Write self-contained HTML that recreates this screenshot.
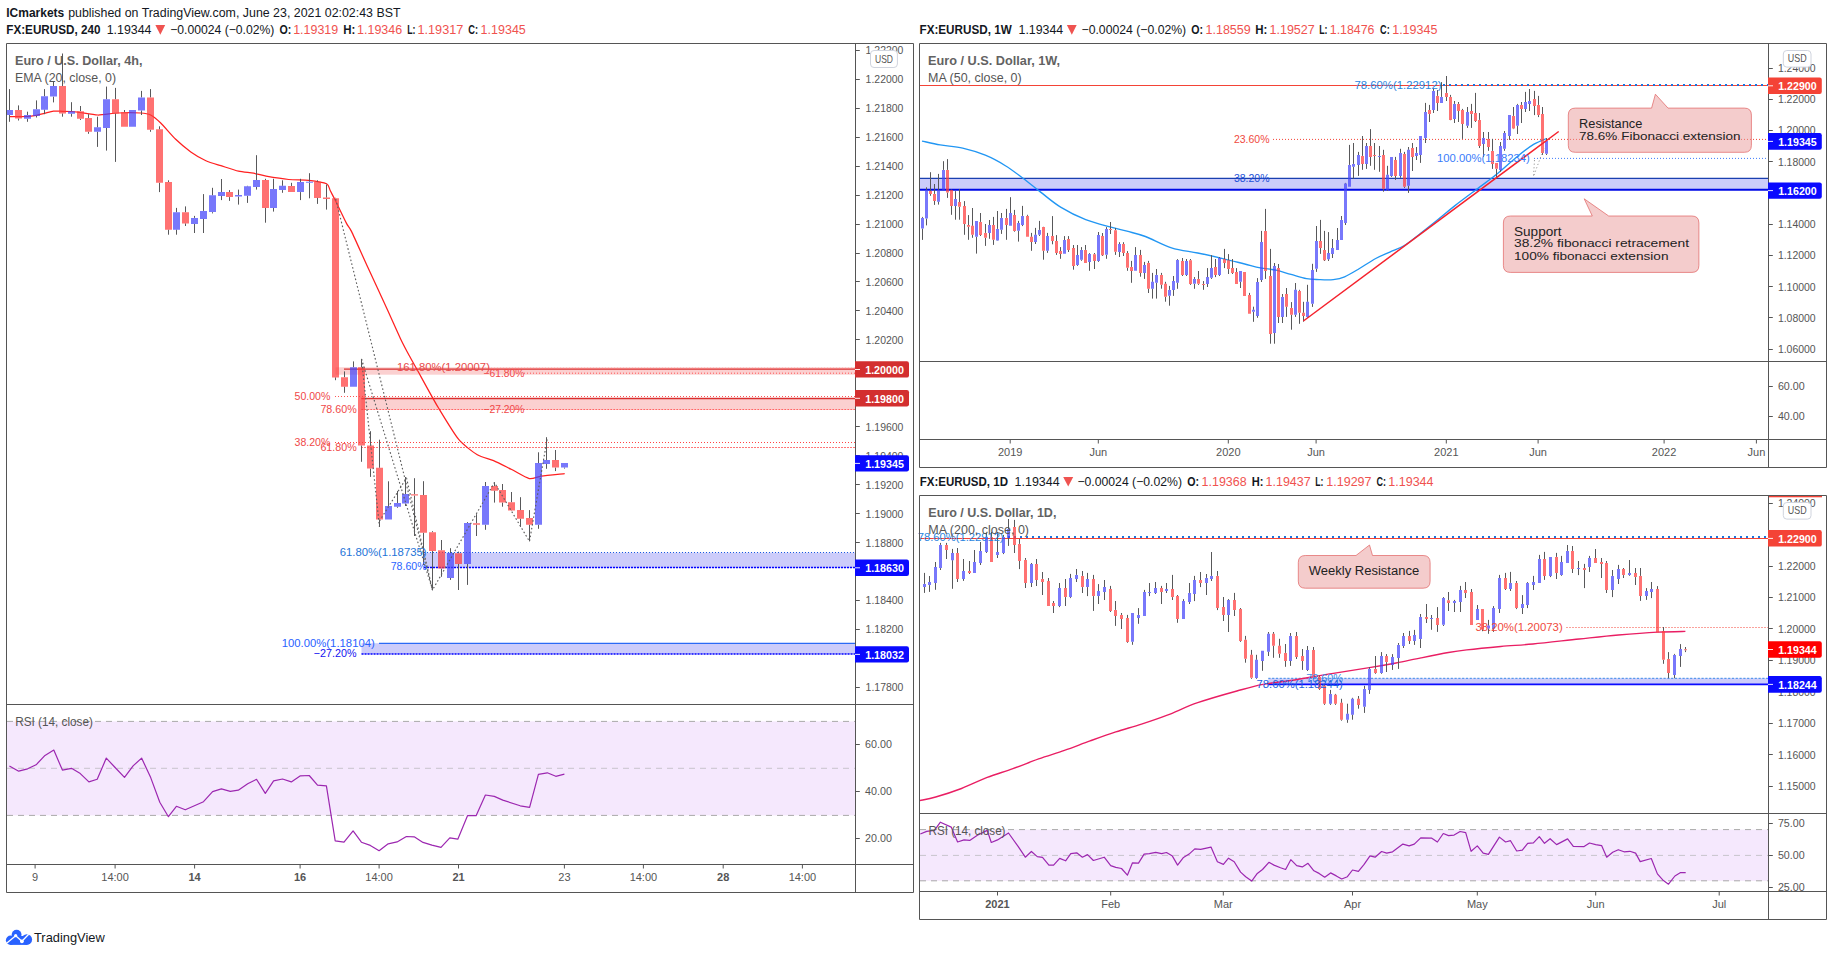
<!DOCTYPE html>
<html><head><meta charset="utf-8"><title>EURUSD</title>
<style>html,body{margin:0;padding:0;background:#fff;overflow:hidden}svg{display:block}text{font-family:"Liberation Sans",sans-serif;white-space:pre}</style></head>
<body>
<svg width="1833" height="956" viewBox="0 0 1833 956" font-family="Liberation Sans, sans-serif">
<rect x="0.0" y="0.0" width="1833.0" height="956.0" fill="#fff"/>
<text x="6.3" y="17.0" font-size="12.5" fill="#131722" font-weight="bold" textLength="57.9" lengthAdjust="spacingAndGlyphs">ICmarkets</text>
<text x="68.2" y="17.0" font-size="12.5" fill="#131722" textLength="332.3" lengthAdjust="spacingAndGlyphs">published on TradingView.com, June 23, 2021 02:02:43 BST</text>
<text x="6.3" y="34.1" font-size="12.5" fill="#131722" font-weight="bold" textLength="94.1" lengthAdjust="spacingAndGlyphs">FX:EURUSD, 240</text>
<text x="106.7" y="34.1" font-size="12.5" fill="#131722" textLength="44.7" lengthAdjust="spacingAndGlyphs">1.19344</text>
<path d="M155.4 25.1H165.2L160.3 34.7z" fill="#ef5350"/>
<text x="170.2" y="34.1" font-size="12.5" fill="#131722" textLength="104.2" lengthAdjust="spacingAndGlyphs">−0.00024 (−0.02%)</text>
<text x="279.4" y="34.1" font-size="12.5" fill="#131722" font-weight="bold" textLength="11.8" lengthAdjust="spacingAndGlyphs">O:</text>
<text x="293.2" y="34.1" font-size="12.5" fill="#f0524f" textLength="45.0" lengthAdjust="spacingAndGlyphs">1.19319</text>
<text x="343.2" y="34.1" font-size="12.5" fill="#131722" font-weight="bold" textLength="12.1" lengthAdjust="spacingAndGlyphs">H:</text>
<text x="357.0" y="34.1" font-size="12.5" fill="#f0524f" textLength="45.2" lengthAdjust="spacingAndGlyphs">1.19346</text>
<text x="407.2" y="34.1" font-size="12.5" fill="#131722" font-weight="bold" textLength="8.3" lengthAdjust="spacingAndGlyphs">L:</text>
<text x="417.5" y="34.1" font-size="12.5" fill="#f0524f" textLength="45.8" lengthAdjust="spacingAndGlyphs">1.19317</text>
<text x="468.3" y="34.1" font-size="12.5" fill="#131722" font-weight="bold" textLength="9.8" lengthAdjust="spacingAndGlyphs">C:</text>
<text x="480.6" y="34.1" font-size="12.5" fill="#f0524f" textLength="45.2" lengthAdjust="spacingAndGlyphs">1.19345</text>
<text x="919.5" y="34.1" font-size="12.5" fill="#131722" font-weight="bold" textLength="92.2" lengthAdjust="spacingAndGlyphs">FX:EURUSD, 1W</text>
<text x="1018.5" y="34.1" font-size="12.5" fill="#131722" textLength="44.7" lengthAdjust="spacingAndGlyphs">1.19344</text>
<path d="M1066.9 25.1H1076.7L1071.8 34.7z" fill="#ef5350"/>
<text x="1081.5" y="34.1" font-size="12.5" fill="#131722" textLength="104.7" lengthAdjust="spacingAndGlyphs">−0.00024 (−0.02%)</text>
<text x="1191.2" y="34.1" font-size="12.5" fill="#131722" font-weight="bold" textLength="11.8" lengthAdjust="spacingAndGlyphs">O:</text>
<text x="1205.5" y="34.1" font-size="12.5" fill="#f0524f" textLength="45.2" lengthAdjust="spacingAndGlyphs">1.18559</text>
<text x="1255.2" y="34.1" font-size="12.5" fill="#131722" font-weight="bold" textLength="12.1" lengthAdjust="spacingAndGlyphs">H:</text>
<text x="1269.5" y="34.1" font-size="12.5" fill="#f0524f" textLength="45.2" lengthAdjust="spacingAndGlyphs">1.19527</text>
<text x="1319.2" y="34.1" font-size="12.5" fill="#131722" font-weight="bold" textLength="8.3" lengthAdjust="spacingAndGlyphs">L:</text>
<text x="1329.8" y="34.1" font-size="12.5" fill="#f0524f" textLength="44.7" lengthAdjust="spacingAndGlyphs">1.18476</text>
<text x="1380.1" y="34.1" font-size="12.5" fill="#131722" font-weight="bold" textLength="9.6" lengthAdjust="spacingAndGlyphs">C:</text>
<text x="1392.2" y="34.1" font-size="12.5" fill="#f0524f" textLength="45.2" lengthAdjust="spacingAndGlyphs">1.19345</text>
<text x="919.7" y="486.0" font-size="12.5" fill="#131722" font-weight="bold" textLength="88.3" lengthAdjust="spacingAndGlyphs">FX:EURUSD, 1D</text>
<text x="1014.6" y="486.0" font-size="12.5" fill="#131722" textLength="45.0" lengthAdjust="spacingAndGlyphs">1.19344</text>
<path d="M1063.2 477.0H1073.2L1068.2 486.6z" fill="#ef5350"/>
<text x="1077.4" y="486.0" font-size="12.5" fill="#131722" textLength="104.6" lengthAdjust="spacingAndGlyphs">−0.00024 (−0.02%)</text>
<text x="1187.2" y="486.0" font-size="12.5" fill="#131722" font-weight="bold" textLength="11.8" lengthAdjust="spacingAndGlyphs">O:</text>
<text x="1201.6" y="486.0" font-size="12.5" fill="#f0524f" textLength="45.0" lengthAdjust="spacingAndGlyphs">1.19368</text>
<text x="1251.8" y="486.0" font-size="12.5" fill="#131722" font-weight="bold" textLength="11.7" lengthAdjust="spacingAndGlyphs">H:</text>
<text x="1265.6" y="486.0" font-size="12.5" fill="#f0524f" textLength="45.0" lengthAdjust="spacingAndGlyphs">1.19437</text>
<text x="1315.3" y="486.0" font-size="12.5" fill="#131722" font-weight="bold" textLength="8.2" lengthAdjust="spacingAndGlyphs">L:</text>
<text x="1326.3" y="486.0" font-size="12.5" fill="#f0524f" textLength="45.2" lengthAdjust="spacingAndGlyphs">1.19297</text>
<text x="1376.5" y="486.0" font-size="12.5" fill="#131722" font-weight="bold" textLength="9.5" lengthAdjust="spacingAndGlyphs">C:</text>
<text x="1388.3" y="486.0" font-size="12.5" fill="#f0524f" textLength="45.2" lengthAdjust="spacingAndGlyphs">1.19344</text>
<clipPath id="cl"><rect x="7" y="44" width="848" height="660"/></clipPath>
<g clip-path="url(#cl)">
<rect x="335.5" y="367.3" width="519.5" height="7.4" fill="#fbd0d0"/>
<rect x="361.3" y="398.2" width="493.7" height="11.2" fill="#fbd0d0"/>
<rect x="424.0" y="552.6" width="431.0" height="14.9" fill="#ccccfa"/>
<rect x="361.5" y="643.2" width="493.5" height="10.8" fill="#ccccfa"/>
<line x1="344.0" y1="369.1" x2="855.0" y2="369.1" stroke="#d83030" stroke-width="1.3"/>
<line x1="361.3" y1="398.5" x2="855.0" y2="398.5" stroke="#d83030" stroke-width="1.3"/>
<line x1="470.0" y1="368.3" x2="855.0" y2="368.3" stroke="#f77" stroke-width="1" stroke-dasharray="1 2"/>
<line x1="524.0" y1="373.2" x2="855.0" y2="373.2" stroke="#f55" stroke-width="1" stroke-dasharray="1 2"/>
<line x1="335.0" y1="396.5" x2="855.0" y2="396.5" stroke="#f55" stroke-width="1" stroke-dasharray="1 2"/>
<line x1="361.3" y1="409.5" x2="855.0" y2="409.5" stroke="#f66" stroke-width="1" stroke-dasharray="2 1"/>
<line x1="335.0" y1="442.5" x2="855.0" y2="442.5" stroke="#f44" stroke-width="1" stroke-dasharray="1 2"/>
<line x1="361.0" y1="447.5" x2="855.0" y2="447.5" stroke="#f77" stroke-width="1" stroke-dasharray="2 1"/>
<line x1="424.0" y1="552.5" x2="855.0" y2="552.5" stroke="#1a5ae0" stroke-width="1.2" stroke-dasharray="1 2"/>
<line x1="424.0" y1="567.4" x2="855.0" y2="567.4" stroke="#0000ff" stroke-width="1.5" stroke-dasharray="2.1 0.9"/>
<line x1="379.0" y1="643.4" x2="855.0" y2="643.4" stroke="#2a6af5" stroke-width="1.3"/>
<line x1="361.5" y1="654.0" x2="855.0" y2="654.0" stroke="#0000ff" stroke-width="1.5" stroke-dasharray="2.1 0.9"/>
<path d="M9.4 116.5C11.5 116.5 24.2 116.6 27.3 116.5C30.4 116.4 34.2 115.7 36.2 115.3C38.2 114.9 42.5 113.9 44.5 113.4C46.5 112.9 51.3 111.3 53.4 111.1C55.5 110.9 60.5 111.4 62.6 111.4C64.7 111.4 69.5 111.4 71.5 111.5C73.5 111.6 76.9 112.1 80.0 112.5C83.1 112.9 93.5 114.9 97.9 115.0C102.3 115.1 113.0 113.2 118.0 113.0C123.0 112.8 136.8 112.8 140.6 113.0C144.4 113.2 148.3 113.8 150.6 115.0C152.9 116.2 157.8 120.2 160.7 123.0C163.6 125.8 172.2 135.9 175.7 139.3C179.2 142.7 187.3 149.4 190.8 151.9C194.3 154.4 202.4 159.1 205.9 160.7C209.4 162.3 217.1 164.5 220.9 165.7C224.7 166.9 234.7 170.3 238.5 171.2C242.3 172.1 250.4 172.6 253.6 173.2C256.8 173.8 262.0 175.5 266.1 176.2C270.2 176.9 283.7 179.0 288.7 179.5C293.7 180.0 304.4 179.8 308.8 180.3C313.2 180.8 324.1 182.6 326.6 183.8C329.1 185.0 329.2 188.5 330.2 190.5C331.2 192.5 333.6 197.0 335.5 200.8C337.4 204.6 344.6 219.8 346.5 223.4C348.4 227.0 349.1 226.5 351.6 231.6C354.1 236.7 363.6 258.2 367.8 267.3C372.0 276.4 383.5 301.2 387.3 309.5C391.1 317.8 398.0 333.4 400.5 338.7C403.0 344.0 406.7 350.9 408.9 355.0C411.1 359.1 416.0 367.6 419.4 373.8C422.8 380.0 433.8 400.2 438.4 407.8C443.0 415.4 454.0 433.7 458.5 439.2C463.0 444.7 473.2 452.3 477.3 454.8C481.4 457.3 489.6 458.9 493.6 460.6C497.6 462.3 507.0 467.2 511.2 469.3C515.4 471.4 525.8 477.8 529.3 478.6C532.8 479.4 537.2 476.7 541.3 476.1C545.4 475.5 562.0 473.9 564.7 473.6" fill="none" stroke="#ff2020" stroke-width="1.25"/>
<path d="M9.5 89.1V110.0M9.5 115.0V121.8M18.5 105.4V110.0M18.5 118.5V120.5M27.5 111.7V115.0M27.5 118.8V121.8M36.5 100.4V109.2M36.5 116.0V117.5M44.5 89.1V96.2M44.5 109.7V114.2M53.5 81.6V86.1M53.5 96.7V102.4M62.5 53.5V86.1M62.5 113.5V116.7M71.5 102.2V111.2M71.5 113.7V116.7M80.5 106.0V111.2M80.5 118.8V120.0M88.5 114.2V118.0M88.5 131.8V133.8M97.5 116.7V127.3M97.5 131.8V146.9M106.5 86.6V99.2M106.5 128.0V150.6M115.5 87.9V99.2M115.5 113.5V161.9M124.5 110.0V112.2M141.5 90.9V97.4M141.5 110.5V115.0M150.5 89.1V97.4M150.5 129.8V131.8M159.5 126.3V129.3M159.5 182.8V192.1M168.5 180.3V182.0M168.5 229.7V234.7M176.5 207.9V212.2M176.5 229.7V234.7M185.5 206.4V212.2M185.5 223.4V226.0M194.5 215.9V217.9M194.5 224.0V233.0M203.5 194.1V210.9M203.5 218.9V233.0M212.5 187.8V195.3M212.5 212.2V213.4M221.5 179.0V192.1M221.5 195.8V200.1M229.5 190.1V192.1M229.5 197.1V200.9M238.5 189.6V195.1M238.5 196.6V204.6M247.5 185.8V186.3M247.5 195.8V202.9M256.5 155.2V180.0M256.5 187.0V189.6M265.5 178.8V180.0M265.5 207.9V222.7M273.5 178.8V189.1M273.5 207.9V211.6M282.5 180.3V185.8M282.5 190.1V192.8M291.5 182.8V186.0M300.5 178.8V182.0M300.5 192.1V200.1M309.5 173.2V181.8M309.5 182.8V198.3M317.5 180.3V181.8M317.5 197.8V203.9M326.5 184.5V197.6M326.5 198.8V209.6M335.5 197.8V198.2M335.5 377.4V380.2M344.5 371.4V377.2M344.5 386.7V392.8M353.5 361.4V367.2M361.5 358.9V367.2M361.5 445.5V461.8M370.5 431.2V445.5M370.5 468.6V476.9M379.5 439.7V467.8M379.5 519.6V526.9M388.5 481.3V506.0M397.5 491.0V503.0M397.5 506.7V507.8M405.5 477.0V494.0M405.5 503.6V506.0M414.5 478.2V494.2M414.5 495.6V536.0M423.5 481.2V495.0M423.5 532.8V565.0M432.5 531.2V532.2M432.5 550.9V590.4M441.5 540.0V550.2M441.5 568.6V576.8M450.5 548.2V553.0M450.5 577.9V579.9M458.5 551.6V553.2M458.5 563.9V590.0M467.5 522.1V523.0M467.5 563.9V584.9M476.5 514.2V523.3M476.5 524.7V536.0M485.5 482.0V486.0M485.5 524.8V529.8M494.5 482.5V486.0M494.5 490.7V502.6M502.5 484.0V490.1M502.5 502.6V506.7M511.5 492.0V502.2M511.5 510.5V510.8M520.5 497.2V510.1M520.5 518.7V526.9M529.5 510.1V518.0M529.5 524.8V541.4M538.5 452.3V463.1M538.5 524.8V528.8M546.5 437.2V460.1M546.5 463.8V468.8M555.5 450.0V460.1M555.5 467.6V471.1M564.5 467.6V468.6" stroke="#58585a" stroke-width="1" fill="none"/>
<path d="M15 110.0h7v8.5h-7zM59 86.1h7v27.4h-7zM77 111.2h7v7.5h-7zM85 118.0h7v13.8h-7zM112 99.2h7v14.3h-7zM121 112.2h7v14.6h-7zM147 97.4h7v32.4h-7zM156 129.3h7v53.5h-7zM165 182.0h7v47.7h-7zM182 212.2h7v11.3h-7zM226 192.1h7v5.0h-7zM262 180.0h7v27.9h-7zM288 186.0h7v6.0h-7zM314 181.8h7v16.1h-7zM323 197.6h7v1.3h-7zM332 198.2h7v179.2h-7zM341 377.2h7v9.5h-7zM358 367.2h7v78.3h-7zM367 445.5h7v23.1h-7zM376 467.8h7v51.8h-7zM411 494.2h7v1.4h-7zM420 495.0h7v37.8h-7zM429 532.2h7v18.7h-7zM438 550.2h7v18.4h-7zM455 553.2h7v10.7h-7zM473 523.3h7v1.4h-7zM491 486.0h7v4.7h-7zM499 490.1h7v12.5h-7zM508 502.2h7v8.3h-7zM517 510.1h7v8.6h-7zM526 518.0h7v6.8h-7zM552 460.1h7v7.5h-7z" fill="#ff3b3b" fill-opacity="0.72"/>
<path d="M6 110.0h7v5.0h-7zM24 115.0h7v3.8h-7zM33 109.2h7v6.8h-7zM41 96.2h7v13.6h-7zM50 86.1h7v10.5h-7zM68 111.2h7v2.5h-7zM94 127.3h7v4.5h-7zM103 99.2h7v28.9h-7zM129 110.0h7v16.8h-7zM138 97.4h7v13.1h-7zM173 212.2h7v17.6h-7zM191 217.9h7v6.0h-7zM200 210.9h7v8.0h-7zM209 195.3h7v16.8h-7zM218 192.1h7v3.8h-7zM235 195.1h7v1.5h-7zM244 186.3h7v9.5h-7zM253 180.0h7v7.0h-7zM270 189.1h7v18.8h-7zM279 185.8h7v4.3h-7zM297 182.0h7v10.0h-7zM306 181.8h7v1.0h-7zM350 367.2h7v19.6h-7zM385 506.0h7v13.6h-7zM394 503.0h7v3.7h-7zM402 494.0h7v9.6h-7zM447 553.0h7v24.9h-7zM464 523.0h7v40.9h-7zM482 486.0h7v38.8h-7zM535 463.1h7v61.7h-7zM543 460.1h7v3.8h-7zM561 463.1h7v4.5h-7z" fill="#4444f9" fill-opacity="0.72"/>
<polyline points="335.7,199.0 432.5,590.0" fill="none" stroke="#5e5e5e" stroke-width="1.15" stroke-linejoin="round" stroke-dasharray="1.6 2.3"/>
<polyline points="361.5,359.0 432.5,590.0" fill="none" stroke="#5e5e5e" stroke-width="1.15" stroke-linejoin="round" stroke-dasharray="1.6 2.3"/>
<polyline points="361.5,359.0 379.5,527.0" fill="none" stroke="#5e5e5e" stroke-width="1.15" stroke-linejoin="round" stroke-dasharray="1.6 2.3"/>
<polyline points="379.5,521.0 406.5,478.0 432.5,590.0 494.4,482.5 529.5,541.4 547.4,437.5" fill="none" stroke="#5e5e5e" stroke-width="1.15" stroke-linejoin="round" stroke-dasharray="1.6 2.3"/>
</g>
<text x="397.0" y="371.1" font-size="11" fill="#e84a4a" textLength="92.9" lengthAdjust="spacingAndGlyphs">161.80%(1.20007)</text>
<text x="483.6" y="377.1" font-size="11" fill="#f04848" textLength="40.7" lengthAdjust="spacingAndGlyphs">−61.80%</text>
<text x="483.6" y="413.1" font-size="11" fill="#f04848" textLength="40.7" lengthAdjust="spacingAndGlyphs">−27.20%</text>
<text x="294.5" y="399.9" font-size="11" fill="#f04848" textLength="35.9" lengthAdjust="spacingAndGlyphs">50.00%</text>
<text x="320.4" y="413.0" font-size="11" fill="#f04848" textLength="36.4" lengthAdjust="spacingAndGlyphs">78.60%</text>
<text x="294.5" y="445.6" font-size="11" fill="#f04848" textLength="35.9" lengthAdjust="spacingAndGlyphs">38.20%</text>
<text x="320.4" y="450.6" font-size="11" fill="#f04848" textLength="36.4" lengthAdjust="spacingAndGlyphs">61.80%</text>
<text x="339.7" y="555.6" font-size="11" fill="#1e73d8" textLength="86.9" lengthAdjust="spacingAndGlyphs">61.80%(1.18735)</text>
<text x="390.7" y="569.9" font-size="11" fill="#2962ff" textLength="35.9" lengthAdjust="spacingAndGlyphs">78.60%</text>
<text x="281.7" y="646.6" font-size="11" fill="#2962ff" textLength="93.1" lengthAdjust="spacingAndGlyphs">100.00%(1.18104)</text>
<text x="313.8" y="657.1" font-size="11" fill="#1212f0" textLength="42.7" lengthAdjust="spacingAndGlyphs">−27.20%</text>
<text x="15.0" y="64.8" font-size="12" fill="#555" font-weight="bold" textLength="127.4" lengthAdjust="spacingAndGlyphs" opacity="0.92">Euro / U.S. Dollar, 4h,</text>
<text x="15.0" y="82.1" font-size="12" fill="#555" textLength="101.0" lengthAdjust="spacingAndGlyphs">EMA (20, close, 0)</text>
<rect x="7.0" y="721.4" width="848.5" height="94.0" fill="#f5e8fd"/>
<line x1="7.0" y1="721.4" x2="855.0" y2="721.4" stroke="#a9a9a9" stroke-width="1" stroke-dasharray="6 5"/>
<line x1="7.0" y1="815.4" x2="855.0" y2="815.4" stroke="#a9a9a9" stroke-width="1" stroke-dasharray="6 5"/>
<line x1="7.0" y1="768.3" x2="855.0" y2="768.3" stroke="#c8c4cc" stroke-width="1" stroke-dasharray="6 5"/>
<polyline points="9.4,765.9 18.7,771.2 27.6,768.8 36.1,764.8 45.0,755.4 53.8,750.1 62.4,770.1 71.5,768.3 80.3,773.6 88.9,781.9 97.2,779.3 106.3,758.1 115.1,767.5 124.5,777.4 133.1,765.9 141.6,758.1 150.7,777.6 159.8,802.3 168.4,816.7 176.4,806.3 185.3,809.8 194.4,805.8 203.5,801.7 212.6,791.6 221.4,788.9 230.3,791.3 238.3,790.2 247.7,783.8 256.5,779.3 265.3,793.4 273.6,780.9 282.5,779.0 291.3,781.9 300.4,775.8 309.2,775.5 317.5,785.1 326.4,785.9 335.2,840.8 344.0,842.2 353.1,830.9 361.4,842.2 370.3,845.4 379.1,850.7 388.2,843.8 397.1,841.9 406.4,836.5 414.2,836.8 423.0,842.4 431.9,845.1 441.0,847.3 449.8,837.9 457.8,839.2 467.5,815.7 476.1,815.7 485.4,795.0 494.3,796.4 502.8,800.1 520.2,805.8 529.6,807.4 538.4,774.4 547.3,772.8 555.8,776.3 564.4,774.2" fill="none" stroke="#9c27b0" stroke-width="1.2" stroke-linejoin="round"/>
<text x="15.3" y="726.0" font-size="12" fill="#555" textLength="77.6" lengthAdjust="spacingAndGlyphs">RSI (14, close)</text>
<path d="M6.5 43.5H913.5V892.5H6.5z M855.5 43.5V892.5 M6.5 704.5H913.5 M6.5 864.5H913.5" fill="none" stroke="#555" stroke-width="1"/>
<line x1="855.5" y1="50.5" x2="859.8" y2="50.5" stroke="#555" stroke-width="1"/>
<text x="865.6" y="54.2" font-size="11" fill="#555" textLength="37.8" lengthAdjust="spacingAndGlyphs">1.22200</text>
<line x1="855.5" y1="79.5" x2="859.8" y2="79.5" stroke="#555" stroke-width="1"/>
<text x="865.6" y="83.2" font-size="11" fill="#555" textLength="37.8" lengthAdjust="spacingAndGlyphs">1.22000</text>
<line x1="855.5" y1="108.5" x2="859.8" y2="108.5" stroke="#555" stroke-width="1"/>
<text x="865.6" y="112.2" font-size="11" fill="#555" textLength="37.8" lengthAdjust="spacingAndGlyphs">1.21800</text>
<line x1="855.5" y1="137.5" x2="859.8" y2="137.5" stroke="#555" stroke-width="1"/>
<text x="865.6" y="141.1" font-size="11" fill="#555" textLength="37.8" lengthAdjust="spacingAndGlyphs">1.21600</text>
<line x1="855.5" y1="166.5" x2="859.8" y2="166.5" stroke="#555" stroke-width="1"/>
<text x="865.6" y="170.1" font-size="11" fill="#555" textLength="37.8" lengthAdjust="spacingAndGlyphs">1.21400</text>
<line x1="855.5" y1="195.5" x2="859.8" y2="195.5" stroke="#555" stroke-width="1"/>
<text x="865.6" y="199.0" font-size="11" fill="#555" textLength="37.8" lengthAdjust="spacingAndGlyphs">1.21200</text>
<line x1="855.5" y1="224.5" x2="859.8" y2="224.5" stroke="#555" stroke-width="1"/>
<text x="865.6" y="228.0" font-size="11" fill="#555" textLength="37.8" lengthAdjust="spacingAndGlyphs">1.21000</text>
<line x1="855.5" y1="253.5" x2="859.8" y2="253.5" stroke="#555" stroke-width="1"/>
<text x="865.6" y="256.9" font-size="11" fill="#555" textLength="37.8" lengthAdjust="spacingAndGlyphs">1.20800</text>
<line x1="855.5" y1="281.5" x2="859.8" y2="281.5" stroke="#555" stroke-width="1"/>
<text x="865.6" y="285.9" font-size="11" fill="#555" textLength="37.8" lengthAdjust="spacingAndGlyphs">1.20600</text>
<line x1="855.5" y1="310.5" x2="859.8" y2="310.5" stroke="#555" stroke-width="1"/>
<text x="865.6" y="314.9" font-size="11" fill="#555" textLength="37.8" lengthAdjust="spacingAndGlyphs">1.20400</text>
<line x1="855.5" y1="339.5" x2="859.8" y2="339.5" stroke="#555" stroke-width="1"/>
<text x="865.6" y="343.8" font-size="11" fill="#555" textLength="37.8" lengthAdjust="spacingAndGlyphs">1.20200</text>
<line x1="855.5" y1="426.5" x2="859.8" y2="426.5" stroke="#555" stroke-width="1"/>
<text x="865.6" y="430.7" font-size="11" fill="#555" textLength="37.8" lengthAdjust="spacingAndGlyphs">1.19600</text>
<line x1="855.5" y1="455.5" x2="859.8" y2="455.5" stroke="#555" stroke-width="1"/>
<text x="865.6" y="459.6" font-size="11" fill="#555" textLength="37.8" lengthAdjust="spacingAndGlyphs">1.19400</text>
<line x1="855.5" y1="484.5" x2="859.8" y2="484.5" stroke="#555" stroke-width="1"/>
<text x="865.6" y="488.6" font-size="11" fill="#555" textLength="37.8" lengthAdjust="spacingAndGlyphs">1.19200</text>
<line x1="855.5" y1="513.5" x2="859.8" y2="513.5" stroke="#555" stroke-width="1"/>
<text x="865.6" y="517.6" font-size="11" fill="#555" textLength="37.8" lengthAdjust="spacingAndGlyphs">1.19000</text>
<line x1="855.5" y1="542.5" x2="859.8" y2="542.5" stroke="#555" stroke-width="1"/>
<text x="865.6" y="546.5" font-size="11" fill="#555" textLength="37.8" lengthAdjust="spacingAndGlyphs">1.18800</text>
<line x1="855.5" y1="571.5" x2="859.8" y2="571.5" stroke="#555" stroke-width="1"/>
<text x="865.6" y="575.5" font-size="11" fill="#555" textLength="37.8" lengthAdjust="spacingAndGlyphs">1.18600</text>
<line x1="855.5" y1="600.5" x2="859.8" y2="600.5" stroke="#555" stroke-width="1"/>
<text x="865.6" y="604.4" font-size="11" fill="#555" textLength="37.8" lengthAdjust="spacingAndGlyphs">1.18400</text>
<line x1="855.5" y1="629.5" x2="859.8" y2="629.5" stroke="#555" stroke-width="1"/>
<text x="865.6" y="633.4" font-size="11" fill="#555" textLength="37.8" lengthAdjust="spacingAndGlyphs">1.18200</text>
<line x1="855.5" y1="658.5" x2="859.8" y2="658.5" stroke="#555" stroke-width="1"/>
<text x="865.6" y="662.3" font-size="11" fill="#555" textLength="37.8" lengthAdjust="spacingAndGlyphs">1.18000</text>
<line x1="855.5" y1="687.5" x2="859.8" y2="687.5" stroke="#555" stroke-width="1"/>
<text x="865.6" y="691.3" font-size="11" fill="#555" textLength="37.8" lengthAdjust="spacingAndGlyphs">1.17800</text>
<line x1="855.5" y1="744.5" x2="859.8" y2="744.5" stroke="#555" stroke-width="1"/>
<text x="865.1" y="748.2" font-size="11" fill="#555" textLength="26.8" lengthAdjust="spacingAndGlyphs">60.00</text>
<line x1="855.5" y1="791.5" x2="859.8" y2="791.5" stroke="#555" stroke-width="1"/>
<text x="865.1" y="795.2" font-size="11" fill="#555" textLength="26.8" lengthAdjust="spacingAndGlyphs">40.00</text>
<line x1="855.5" y1="838.5" x2="859.8" y2="838.5" stroke="#555" stroke-width="1"/>
<text x="865.1" y="842.2" font-size="11" fill="#555" textLength="26.8" lengthAdjust="spacingAndGlyphs">20.00</text>
<rect x="870.5" y="50.5" width="26.9" height="17.0" rx="3.5" fill="#fff" stroke="#d0d4de"/>
<text x="875.0" y="62.7" font-size="11" fill="#555" textLength="18.0" lengthAdjust="spacingAndGlyphs">USD</text>
<path d="M855.0 361.3H906.8Q909.0 361.3 909.0 363.5V375.4Q909.0 377.6 906.8 377.6H855.0z" fill="#d32f2f"/>
<line x1="855.0" y1="369.5" x2="860.0" y2="369.5" stroke="#fff" stroke-width="1" opacity="0.9"/>
<text x="865.2" y="373.9" font-size="11" fill="#fff" font-weight="bold" textLength="38.7" lengthAdjust="spacingAndGlyphs">1.20000</text>
<path d="M855.0 390.1H906.8Q909.0 390.1 909.0 392.3V404.3Q909.0 406.5 906.8 406.5H855.0z" fill="#d32f2f"/>
<line x1="855.0" y1="398.3" x2="860.0" y2="398.3" stroke="#fff" stroke-width="1" opacity="0.9"/>
<text x="865.2" y="402.7" font-size="11" fill="#fff" font-weight="bold" textLength="38.7" lengthAdjust="spacingAndGlyphs">1.19800</text>
<path d="M855.0 455.2H906.8Q909.0 455.2 909.0 457.4V469.3Q909.0 471.5 906.8 471.5H855.0z" fill="#0a0aff"/>
<line x1="855.0" y1="463.4" x2="860.0" y2="463.4" stroke="#fff" stroke-width="1" opacity="0.9"/>
<text x="865.2" y="467.8" font-size="11" fill="#fff" font-weight="bold" textLength="38.7" lengthAdjust="spacingAndGlyphs">1.19345</text>
<path d="M855.0 559.6H906.8Q909.0 559.6 909.0 561.8V573.7Q909.0 575.9 906.8 575.9H855.0z" fill="#0a0aff"/>
<line x1="855.0" y1="567.8" x2="860.0" y2="567.8" stroke="#fff" stroke-width="1" opacity="0.9"/>
<text x="865.2" y="572.1" font-size="11" fill="#fff" font-weight="bold" textLength="38.7" lengthAdjust="spacingAndGlyphs">1.18630</text>
<path d="M855.0 646.2H906.8Q909.0 646.2 909.0 648.4V660.3Q909.0 662.5 906.8 662.5H855.0z" fill="#0a0aff"/>
<line x1="855.0" y1="654.4" x2="860.0" y2="654.4" stroke="#fff" stroke-width="1" opacity="0.9"/>
<text x="865.2" y="658.8" font-size="11" fill="#fff" font-weight="bold" textLength="38.7" lengthAdjust="spacingAndGlyphs">1.18032</text>
<line x1="35.1" y1="864.5" x2="35.1" y2="868.5" stroke="#555" stroke-width="1"/>
<text x="35.1" y="880.8" font-size="11" fill="#555" text-anchor="middle">9</text>
<line x1="115.1" y1="864.5" x2="115.1" y2="868.5" stroke="#555" stroke-width="1"/>
<text x="115.1" y="880.8" font-size="11" fill="#555" text-anchor="middle">14:00</text>
<line x1="194.6" y1="864.5" x2="194.6" y2="868.5" stroke="#555" stroke-width="1"/>
<text x="194.6" y="880.8" font-size="11" fill="#555" font-weight="bold" text-anchor="middle">14</text>
<line x1="300.1" y1="864.5" x2="300.1" y2="868.5" stroke="#555" stroke-width="1"/>
<text x="300.1" y="880.8" font-size="11" fill="#555" font-weight="bold" text-anchor="middle">16</text>
<line x1="379.1" y1="864.5" x2="379.1" y2="868.5" stroke="#555" stroke-width="1"/>
<text x="379.1" y="880.8" font-size="11" fill="#555" text-anchor="middle">14:00</text>
<line x1="458.5" y1="864.5" x2="458.5" y2="868.5" stroke="#555" stroke-width="1"/>
<text x="458.5" y="880.8" font-size="11" fill="#555" font-weight="bold" text-anchor="middle">21</text>
<line x1="564.4" y1="864.5" x2="564.4" y2="868.5" stroke="#555" stroke-width="1"/>
<text x="564.4" y="880.8" font-size="11" fill="#555" text-anchor="middle">23</text>
<line x1="643.4" y1="864.5" x2="643.4" y2="868.5" stroke="#555" stroke-width="1"/>
<text x="643.4" y="880.8" font-size="11" fill="#555" text-anchor="middle">14:00</text>
<line x1="723.2" y1="864.5" x2="723.2" y2="868.5" stroke="#555" stroke-width="1"/>
<text x="723.2" y="880.8" font-size="11" fill="#555" font-weight="bold" text-anchor="middle">28</text>
<line x1="802.4" y1="864.5" x2="802.4" y2="868.5" stroke="#555" stroke-width="1"/>
<text x="802.4" y="880.8" font-size="11" fill="#555" text-anchor="middle">14:00</text>
<clipPath id="cw"><rect x="920" y="44" width="848" height="317"/></clipPath>
<g clip-path="url(#cw)">
<line x1="920.0" y1="85.5" x2="1768.0" y2="85.5" stroke="#f44336" stroke-width="1.1"/>
<line x1="1443.0" y1="85.0" x2="1768.0" y2="85.0" stroke="#1a73e0" stroke-width="2" stroke-dasharray="2 4"/>
<line x1="1273.0" y1="139.4" x2="1768.0" y2="139.4" stroke="#f44336" stroke-width="1" stroke-dasharray="1 2"/>
<line x1="1534.0" y1="158.4" x2="1768.0" y2="158.4" stroke="#3d7bfd" stroke-width="1" stroke-dasharray="1 2"/>
<rect x="920.0" y="178.3" width="848.0" height="11.5" fill="#ccccfa"/>
<line x1="920.0" y1="178.4" x2="1768.0" y2="178.4" stroke="#1a3fb0" stroke-width="1.2"/>
<line x1="920.0" y1="189.8" x2="1768.0" y2="189.8" stroke="#0008e6" stroke-width="2.0"/>
<path d="M922.0 141.1C925.0 141.7 933.3 143.7 940.1 144.9C946.9 146.1 955.2 146.4 962.7 148.1C970.2 149.8 978.2 152.3 985.3 155.2C992.4 158.1 999.1 161.8 1005.4 165.7C1011.7 169.5 1017.1 173.9 1023.0 178.3C1028.9 182.7 1034.3 187.3 1040.6 192.1C1046.9 196.9 1053.1 202.5 1060.6 207.1C1068.1 211.7 1077.3 216.3 1085.7 219.7C1094.1 223.0 1104.0 225.3 1110.9 227.2C1117.8 229.1 1121.2 229.6 1127.0 231.2C1132.8 232.8 1138.0 233.7 1145.4 236.5C1152.8 239.3 1162.8 245.1 1171.5 247.8C1180.2 250.6 1189.0 251.2 1197.7 253.0C1206.4 254.8 1216.0 257.0 1223.8 258.8C1231.6 260.6 1238.6 262.5 1244.7 264.0C1250.8 265.5 1255.2 266.9 1260.4 267.9C1265.6 268.9 1271.0 269.1 1276.1 270.2C1281.2 271.3 1285.9 273.0 1291.0 274.4C1296.1 275.8 1301.8 277.7 1306.5 278.6C1311.2 279.5 1314.7 279.4 1319.2 279.6C1323.7 279.8 1329.1 280.1 1333.3 279.6C1337.5 279.1 1340.4 278.6 1344.6 276.8C1348.8 275.0 1353.5 272.1 1358.7 269.0C1363.9 265.9 1370.5 261.3 1375.7 258.5C1380.9 255.7 1385.1 254.2 1389.8 252.1C1394.5 250.0 1398.7 249.0 1403.9 245.8C1409.1 242.6 1415.3 237.4 1421.0 233.0C1426.7 228.6 1432.3 224.1 1438.0 219.5C1443.7 214.9 1448.4 210.8 1455.0 205.6C1461.6 200.4 1470.5 193.9 1477.6 188.6C1484.6 183.3 1490.5 179.3 1497.3 173.8C1504.1 168.3 1512.4 160.4 1518.5 155.5C1524.6 150.6 1529.3 147.0 1534.0 144.2C1538.7 141.4 1544.6 139.4 1546.7 138.5" fill="none" stroke="#2196f3" stroke-width="1.35"/>
<path d="M922.5 216.9V217.9M922.5 228.6V239.9M926.5 187.3V190.1M926.5 218.6V225.4M930.5 172.2V191.1M930.5 193.9V195.8M934.5 184.0V193.9M934.5 201.0V204.9M938.5 173.9V190.1M938.5 201.7V204.6M943.5 161.2V169.9M943.5 189.7V190.1M947.5 159.1V169.9M947.5 192.6V197.9M951.5 189.4V190.1M951.5 205.9V214.8M955.5 191.1V199.0M955.5 205.9V219.7M959.5 189.1V202.1M959.5 206.8V219.7M964.5 201.1V206.1M964.5 224.0V234.8M968.5 215.1V225.0M968.5 226.8V239.8M972.5 208.0V225.8M972.5 234.8V237.8M976.5 236.8V253.6M980.5 213.0V221.9M980.5 234.8V236.0M985.5 224.0V232.9M985.5 237.8V245.9M989.5 220.0V225.0M989.5 232.9V238.8M993.5 216.9V225.0M993.5 239.8V244.9M997.5 211.0V228.9M997.5 240.6V240.9M1001.5 213.0V217.9M1001.5 229.8V233.9M1006.5 208.9V217.9M1006.5 225.0V239.8M1010.5 197.2V213.0M1014.5 209.9V215.1M1014.5 231.0V231.7M1018.5 220.9V223.0M1018.5 230.8V241.6M1022.5 205.9V215.9M1022.5 225.0V226.1M1027.5 214.8V215.9M1031.5 232.9V236.8M1031.5 241.9V250.8M1035.5 227.9V234.8M1035.5 241.9V244.0M1039.5 220.9V229.9M1039.5 234.8V236.0M1043.5 226.8V227.1M1043.5 250.8V259.7M1047.5 232.9V236.0M1047.5 250.8V252.9M1052.5 216.1V236.1M1052.5 241.0V244.3M1056.5 235.1V241.0M1056.5 253.0V254.9M1060.5 247.1V251.1M1060.5 253.9V258.8M1064.5 236.1V240.0M1068.5 236.1V239.1M1068.5 249.9V252.0M1073.5 245.0V248.1M1073.5 265.9V269.7M1077.5 245.0V255.1M1077.5 265.0V265.9M1081.5 247.1V249.9M1081.5 259.8V260.8M1085.5 245.0V249.9M1089.5 253.0V253.9M1089.5 261.9V270.8M1094.5 253.0V254.2M1094.5 260.9V269.0M1098.5 232.0V235.1M1098.5 260.9V261.9M1102.5 233.0V236.1M1102.5 255.1V256.0M1106.5 227.1V229.0M1106.5 254.9V258.8M1110.5 222.0V229.0M1110.5 230.0V234.0M1115.5 228.0V230.2M1115.5 251.8V254.9M1119.5 242.2V244.0M1119.5 252.0V257.0M1123.5 242.2V244.0M1123.5 253.0V256.0M1127.5 251.1V253.0M1127.5 267.9V270.8M1131.5 260.9V266.9M1131.5 270.8V282.8M1135.5 247.1V255.1M1140.5 249.9V255.1M1140.5 272.9V276.7M1144.5 261.9V265.0M1144.5 272.9V278.9M1148.5 260.9V262.9M1148.5 288.7V293.0M1152.5 272.9V281.8M1152.5 288.7V298.6M1156.5 269.0V274.9M1156.5 282.8V298.6M1161.5 272.9V274.9M1161.5 284.8V288.7M1165.5 281.8V283.8M1165.5 296.8V301.7M1169.5 285.9V289.9M1169.5 295.8V305.7M1173.5 276.0V281.1M1173.5 289.8V295.9M1177.5 259.0V259.9M1177.5 282.7V288.8M1182.5 258.0V261.0M1182.5 275.0V276.0M1186.5 259.0V261.0M1186.5 275.0V276.0M1190.5 259.0V260.2M1190.5 283.9V284.9M1194.5 277.1V278.9M1194.5 283.9V288.8M1198.5 271.0V278.9M1198.5 283.9V284.9M1203.5 281.1V283.9M1203.5 284.9V289.8M1207.5 268.1V277.1M1207.5 283.9V287.0M1211.5 255.1V268.1M1211.5 277.8V278.9M1215.5 259.0V267.1M1215.5 275.0V277.1M1219.5 257.1V258.0M1219.5 275.0V276.0M1224.5 248.9V259.0M1224.5 263.0V268.1M1228.5 254.1V260.2M1228.5 269.1V274.0M1232.5 259.0V268.1M1232.5 273.0V274.0M1236.5 268.1V272.0M1240.5 281.8V288.0M1249.5 292.9V295.0M1253.5 306.7V309.8M1253.5 311.8V321.8M1257.5 278.1V282.0M1257.5 315.9V317.8M1261.5 230.9V242.0M1261.5 279.9V282.0M1265.5 208.9V230.9M1265.5 271.0V278.9M1270.5 248.9V276.0M1270.5 333.8V343.7M1274.5 263.0V266.1M1274.5 332.9V343.7M1278.5 264.0V268.1M1278.5 316.9V323.0M1282.5 294.0V296.9M1282.5 316.9V323.0M1286.5 288.0V294.0M1286.5 306.7V316.9M1291.5 302.1V307.9M1291.5 314.8V329.7M1295.5 283.0V289.8M1295.5 314.8V316.9M1299.5 289.8V290.9M1299.5 312.8V323.8M1303.5 301.8V312.8M1303.5 315.9V321.7M1307.5 284.8V301.8M1307.5 317.0V317.7M1312.5 263.8V270.0M1312.5 303.8V306.9M1316.5 226.0V241.1M1316.5 268.8V271.9M1320.5 219.9V241.1M1320.5 248.0V253.9M1324.5 230.9V250.0M1324.5 260.1V261.0M1328.5 232.1V253.1M1328.5 259.2V261.0M1332.5 239.0V248.0M1332.5 253.9V258.0M1337.5 228.0V240.0M1341.5 216.0V219.9M1345.5 182.9V183.6M1345.5 223.0V225.0M1349.5 144.9V164.9M1353.5 143.0V163.9M1353.5 166.7V178.7M1358.5 151.9V155.0M1358.5 164.9V175.9M1362.5 136.0V155.9M1362.5 163.9V169.8M1366.5 143.0V146.0M1366.5 163.9V168.9M1370.5 129.1V146.0M1370.5 156.9V165.8M1374.5 143.0V155.0M1374.5 156.0V169.8M1379.5 146.0V155.9M1379.5 156.9V171.8M1383.5 149.8V155.0M1383.5 188.8V191.7M1387.5 165.8V174.8M1387.5 189.7V190.7M1391.5 175.9V176.9M1395.5 156.9V160.0M1395.5 175.9V179.9M1400.5 148.8V152.9M1400.5 175.9V177.8M1404.5 151.9V154.0M1404.5 186.8V187.9M1408.5 147.0V149.8M1408.5 185.8V192.9M1412.5 143.0V148.0M1412.5 156.9V171.0M1416.5 147.0V152.9M1416.5 155.9V160.0M1420.5 155.0V162.9M1425.5 102.9V112.0M1425.5 138.1V143.0M1429.5 104.9V110.0M1429.5 114.1V122.0M1433.5 88.0V90.9M1433.5 110.0V113.0M1437.5 90.0V95.9M1437.5 102.9V111.0M1441.5 82.1V96.9M1446.5 76.0V92.9M1446.5 96.9V101.0M1450.5 94.9V96.9M1450.5 119.9V120.2M1454.5 101.0V103.9M1454.5 119.0V123.0M1458.5 102.0V103.9M1458.5 111.0V122.0M1462.5 108.9V110.0M1462.5 124.0V138.9M1467.5 107.0V112.0M1467.5 125.8V127.9M1471.5 103.9V111.0M1471.5 114.1V127.9M1475.5 92.9V113.0M1475.5 121.0V122.0M1479.5 113.0V119.9M1479.5 146.0V148.0M1483.5 132.0V138.1M1483.5 143.9V156.9M1488.5 132.0V138.9M1488.5 147.0V150.8M1492.5 138.9V150.9M1492.5 163.9V168.9M1496.5 168.9V177.8M1500.5 142.0V146.0M1500.5 169.8V171.8M1504.5 131.0V133.0M1504.5 148.8V150.8M1509.5 136.0V139.9M1513.5 107.0V115.9M1513.5 128.6V129.1M1517.5 103.9V104.9M1517.5 125.8V134.0M1521.5 102.0V104.9M1521.5 108.9V123.0M1525.5 91.9V102.0M1525.5 108.9V112.0M1529.5 89.0V101.0M1529.5 103.9V111.0M1534.5 90.9V99.0M1534.5 105.9V115.1M1538.5 95.9V104.9M1538.5 115.1V117.1M1542.5 107.0V114.1M1542.5 152.9V155.0M1546.5 138.1V140.9M1546.5 153.8V155.0" stroke="#58585a" stroke-width="1" fill="none"/>
<path d="M929 191.1h3v2.8h-3zM933 193.9h3v7.1h-3zM946 169.9h3v22.7h-3zM950 190.1h3v15.8h-3zM958 202.1h3v4.7h-3zM963 206.1h3v17.9h-3zM967 225.0h3v1.8h-3zM971 225.8h3v9.0h-3zM979 221.9h3v13.0h-3zM984 232.9h3v4.9h-3zM992 225.0h3v14.8h-3zM1005 217.9h3v7.1h-3zM1013 215.1h3v15.9h-3zM1026 215.9h3v20.9h-3zM1030 236.8h3v5.1h-3zM1042 227.1h3v23.7h-3zM1051 236.1h3v4.9h-3zM1055 241.0h3v12.0h-3zM1059 251.1h3v2.8h-3zM1067 239.1h3v10.9h-3zM1072 248.1h3v17.8h-3zM1084 249.9h3v13.0h-3zM1093 254.2h3v6.8h-3zM1101 236.1h3v19.1h-3zM1109 229.0h3v1.0h-3zM1114 230.2h3v21.6h-3zM1122 244.0h3v9.0h-3zM1126 253.0h3v14.8h-3zM1130 266.9h3v4.0h-3zM1139 255.1h3v17.8h-3zM1147 262.9h3v25.8h-3zM1160 274.9h3v9.9h-3zM1164 283.8h3v13.0h-3zM1181 261.0h3v14.0h-3zM1189 260.2h3v23.7h-3zM1197 278.9h3v4.9h-3zM1202 283.9h3v1.0h-3zM1214 267.1h3v7.9h-3zM1223 259.0h3v4.0h-3zM1227 260.2h3v8.9h-3zM1231 268.1h3v4.9h-3zM1235 272.0h3v11.9h-3zM1243 272.0h3v23.9h-3zM1248 295.0h3v18.8h-3zM1264 230.9h3v40.1h-3zM1269 276.0h3v57.9h-3zM1277 268.1h3v48.8h-3zM1285 294.0h3v12.7h-3zM1290 307.9h3v6.9h-3zM1298 290.9h3v21.9h-3zM1302 312.8h3v3.1h-3zM1319 241.1h3v6.9h-3zM1323 250.0h3v10.2h-3zM1361 155.9h3v8.0h-3zM1369 146.0h3v10.9h-3zM1373 155.0h3v1.0h-3zM1382 155.0h3v33.7h-3zM1394 160.0h3v15.9h-3zM1403 154.0h3v32.7h-3zM1411 148.0h3v8.9h-3zM1428 110.0h3v4.1h-3zM1436 95.9h3v7.1h-3zM1445 92.9h3v4.0h-3zM1449 96.9h3v23.0h-3zM1457 103.9h3v7.1h-3zM1461 110.0h3v14.0h-3zM1470 111.0h3v3.1h-3zM1474 113.0h3v8.0h-3zM1478 119.9h3v26.1h-3zM1487 138.9h3v8.0h-3zM1491 150.9h3v13.0h-3zM1495 162.9h3v5.9h-3zM1512 115.9h3v12.7h-3zM1520 104.9h3v4.0h-3zM1533 99.0h3v6.9h-3zM1537 104.9h3v10.2h-3zM1541 114.1h3v38.8h-3z" fill="#ff3b3b" fill-opacity="0.72"/>
<path d="M921 217.9h3v10.7h-3zM925 190.1h3v28.5h-3zM937 190.1h3v11.6h-3zM942 169.9h3v19.8h-3zM954 199.0h3v6.9h-3zM975 220.9h3v15.9h-3zM988 225.0h3v7.9h-3zM996 228.9h3v11.7h-3zM1000 217.9h3v11.9h-3zM1009 213.0h3v12.8h-3zM1017 223.0h3v7.8h-3zM1021 215.9h3v9.0h-3zM1034 234.8h3v7.1h-3zM1038 229.9h3v4.9h-3zM1046 236.0h3v14.8h-3zM1063 240.0h3v13.8h-3zM1076 255.1h3v9.9h-3zM1080 249.9h3v9.9h-3zM1088 253.9h3v8.0h-3zM1097 235.1h3v25.8h-3zM1105 229.0h3v25.8h-3zM1118 244.0h3v8.0h-3zM1134 255.1h3v15.7h-3zM1143 265.0h3v7.9h-3zM1151 281.8h3v6.9h-3zM1155 274.9h3v7.9h-3zM1168 289.9h3v5.9h-3zM1172 281.1h3v8.8h-3zM1176 259.9h3v22.9h-3zM1185 261.0h3v14.0h-3zM1193 278.9h3v4.9h-3zM1206 277.1h3v6.8h-3zM1210 268.1h3v9.7h-3zM1218 258.0h3v16.9h-3zM1239 271.0h3v10.7h-3zM1252 309.8h3v2.0h-3zM1256 282.0h3v33.9h-3zM1260 242.0h3v38.0h-3zM1273 266.1h3v66.8h-3zM1281 296.9h3v20.0h-3zM1294 289.8h3v25.0h-3zM1306 301.8h3v15.2h-3zM1311 270.0h3v33.7h-3zM1315 241.1h3v27.7h-3zM1327 253.1h3v6.1h-3zM1331 248.0h3v5.9h-3zM1336 240.0h3v10.0h-3zM1340 219.9h3v20.0h-3zM1344 183.6h3v39.4h-3zM1348 164.9h3v21.9h-3zM1352 163.9h3v2.8h-3zM1357 155.0h3v9.9h-3zM1365 146.0h3v17.9h-3zM1378 155.9h3v1.0h-3zM1386 174.8h3v15.0h-3zM1390 156.9h3v19.1h-3zM1399 152.9h3v23.0h-3zM1407 149.8h3v36.0h-3zM1415 152.9h3v3.0h-3zM1419 136.0h3v19.1h-3zM1424 112.0h3v26.1h-3zM1432 90.9h3v19.1h-3zM1440 96.9h3v6.1h-3zM1453 103.9h3v15.1h-3zM1466 112.0h3v13.8h-3zM1482 138.1h3v5.8h-3zM1499 146.0h3v23.9h-3zM1503 133.0h3v15.8h-3zM1508 115.1h3v20.9h-3zM1516 104.9h3v20.9h-3zM1524 102.0h3v6.9h-3zM1528 101.0h3v3.0h-3zM1545 140.9h3v12.8h-3z" fill="#4444f9" fill-opacity="0.72"/>
<line x1="1303.4" y1="321.0" x2="1558.7" y2="131.5" stroke="#f5222d" stroke-width="1.5"/>
<polyline points="1534.5,160.0 1533.5,176.5 1541.0,156.0 1545.5,148.0" fill="none" stroke="#999" stroke-width="1" stroke-linejoin="round" stroke-dasharray="1.2 2.4"/>
</g>
<text x="1354.5" y="88.6" font-size="11" fill="#2a86e0" textLength="87.0" lengthAdjust="spacingAndGlyphs">78.60%(1.22912)</text>
<text x="1233.9" y="142.6" font-size="11" fill="#f04a3e" textLength="35.6" lengthAdjust="spacingAndGlyphs">23.60%</text>
<text x="1233.9" y="182.2" font-size="11" fill="#2050d8" textLength="35.6" lengthAdjust="spacingAndGlyphs">38.20%</text>
<text x="1436.9" y="161.8" font-size="11" fill="#3a7cfa" textLength="93.0" lengthAdjust="spacingAndGlyphs">100.00%(1.18234)</text>
<path d="M1575.3 108.1H1651.6L1655.4 94.2L1668.0 108.1H1744.4Q1751.4 108.1 1751.4 115.1V145.3Q1751.4 152.3 1744.4 152.3H1575.3Q1568.3 152.3 1568.3 145.3V115.1Q1568.3 108.1 1575.3 108.1z" fill="#ea9999" fill-opacity="0.5" stroke="#e26a6a" stroke-opacity="0.75" stroke-width="1"/>
<text x="1579.1" y="127.6" font-size="12.5" fill="#222" textLength="63.2" lengthAdjust="spacingAndGlyphs">Resistance</text>
<text x="1579.1" y="139.8" font-size="11.5" fill="#222" textLength="161.4" lengthAdjust="spacingAndGlyphs">78.6% Fibonacci extension</text>
<path d="M1510.4 216.0H1592.3L1584.2 198.8L1608.7 216.0H1691.9Q1698.9 216.0 1698.9 223.0V265.4Q1698.9 272.4 1691.9 272.4H1510.4Q1503.4 272.4 1503.4 265.4V223.0Q1503.4 216.0 1510.4 216.0z" fill="#ea9999" fill-opacity="0.5" stroke="#e26a6a" stroke-opacity="0.75" stroke-width="1"/>
<text x="1514.0" y="236.0" font-size="12.5" fill="#222" textLength="47.5" lengthAdjust="spacingAndGlyphs">Support</text>
<text x="1514.0" y="247.4" font-size="11.5" fill="#222" textLength="175.0" lengthAdjust="spacingAndGlyphs">38.2% fibonacci retracement</text>
<text x="1514.0" y="259.6" font-size="11.5" fill="#222" textLength="154.5" lengthAdjust="spacingAndGlyphs">100% fibonacci extension</text>
<text x="928.1" y="64.8" font-size="12" fill="#555" font-weight="bold" textLength="132.0" lengthAdjust="spacingAndGlyphs" opacity="0.92">Euro / U.S. Dollar, 1W,</text>
<text x="928.1" y="82.1" font-size="12" fill="#555" textLength="93.6" lengthAdjust="spacingAndGlyphs">MA (50, close, 0)</text>
<path d="M919.5 43.5H1826.5V467.5H919.5z M1768.5 43.5V467.5 M919.5 361.5H1826.5 M919.5 439.5H1826.5" fill="none" stroke="#555" stroke-width="1"/>
<line x1="1768.5" y1="68.5" x2="1772.8" y2="68.5" stroke="#555" stroke-width="1"/>
<text x="1777.9" y="72.0" font-size="11" fill="#555" textLength="37.8" lengthAdjust="spacingAndGlyphs">1.24000</text>
<line x1="1768.5" y1="99.5" x2="1772.8" y2="99.5" stroke="#555" stroke-width="1"/>
<text x="1777.9" y="103.2" font-size="11" fill="#555" textLength="37.8" lengthAdjust="spacingAndGlyphs">1.22000</text>
<line x1="1768.5" y1="130.5" x2="1772.8" y2="130.5" stroke="#555" stroke-width="1"/>
<text x="1777.9" y="134.4" font-size="11" fill="#555" textLength="37.8" lengthAdjust="spacingAndGlyphs">1.20000</text>
<line x1="1768.5" y1="161.5" x2="1772.8" y2="161.5" stroke="#555" stroke-width="1"/>
<text x="1777.9" y="165.6" font-size="11" fill="#555" textLength="37.8" lengthAdjust="spacingAndGlyphs">1.18000</text>
<line x1="1768.5" y1="224.5" x2="1772.8" y2="224.5" stroke="#555" stroke-width="1"/>
<text x="1777.9" y="228.1" font-size="11" fill="#555" textLength="37.8" lengthAdjust="spacingAndGlyphs">1.14000</text>
<line x1="1768.5" y1="255.5" x2="1772.8" y2="255.5" stroke="#555" stroke-width="1"/>
<text x="1777.9" y="259.3" font-size="11" fill="#555" textLength="37.8" lengthAdjust="spacingAndGlyphs">1.12000</text>
<line x1="1768.5" y1="286.5" x2="1772.8" y2="286.5" stroke="#555" stroke-width="1"/>
<text x="1777.9" y="290.5" font-size="11" fill="#555" textLength="37.8" lengthAdjust="spacingAndGlyphs">1.10000</text>
<line x1="1768.5" y1="317.5" x2="1772.8" y2="317.5" stroke="#555" stroke-width="1"/>
<text x="1777.9" y="321.7" font-size="11" fill="#555" textLength="37.8" lengthAdjust="spacingAndGlyphs">1.08000</text>
<line x1="1768.5" y1="349.5" x2="1772.8" y2="349.5" stroke="#555" stroke-width="1"/>
<text x="1777.9" y="353.0" font-size="11" fill="#555" textLength="37.8" lengthAdjust="spacingAndGlyphs">1.06000</text>
<line x1="1768.5" y1="386.5" x2="1772.8" y2="386.5" stroke="#555" stroke-width="1"/>
<text x="1777.9" y="389.9" font-size="11" fill="#555" textLength="26.8" lengthAdjust="spacingAndGlyphs">60.00</text>
<line x1="1768.5" y1="416.5" x2="1772.8" y2="416.5" stroke="#555" stroke-width="1"/>
<text x="1777.9" y="420.0" font-size="11" fill="#555" textLength="26.8" lengthAdjust="spacingAndGlyphs">40.00</text>
<rect x="1783.3" y="50.5" width="27.7" height="16.6" rx="3.5" fill="#fff" stroke="#d0d4de"/>
<text x="1787.8" y="62.3" font-size="11" fill="#555" textLength="18.8" lengthAdjust="spacingAndGlyphs">USD</text>
<path d="M1768.0 77.5H1819.6Q1821.8 77.5 1821.8 79.7V91.8Q1821.8 94.0 1819.6 94.0H1768.0z" fill="#f44336"/>
<line x1="1768.0" y1="85.8" x2="1773.0" y2="85.8" stroke="#fff" stroke-width="1" opacity="0.9"/>
<text x="1778.2" y="90.2" font-size="11" fill="#fff" font-weight="bold" textLength="38.5" lengthAdjust="spacingAndGlyphs">1.22900</text>
<path d="M1768.0 133.1H1819.6Q1821.8 133.1 1821.8 135.3V147.6Q1821.8 149.8 1819.6 149.8H1768.0z" fill="#0a0aff"/>
<line x1="1768.0" y1="141.4" x2="1773.0" y2="141.4" stroke="#fff" stroke-width="1" opacity="0.9"/>
<text x="1778.2" y="145.8" font-size="11" fill="#fff" font-weight="bold" textLength="38.5" lengthAdjust="spacingAndGlyphs">1.19345</text>
<path d="M1768.0 182.4H1819.6Q1821.8 182.4 1821.8 184.6V196.6Q1821.8 198.8 1819.6 198.8H1768.0z" fill="#0a0aff"/>
<line x1="1768.0" y1="190.6" x2="1773.0" y2="190.6" stroke="#fff" stroke-width="1" opacity="0.9"/>
<text x="1778.2" y="195.0" font-size="11" fill="#fff" font-weight="bold" textLength="38.5" lengthAdjust="spacingAndGlyphs">1.16200</text>
<line x1="1010.2" y1="439.5" x2="1010.2" y2="443.5" stroke="#555" stroke-width="1"/>
<text x="1010.2" y="455.8" font-size="11" fill="#555" text-anchor="middle">2019</text>
<line x1="1098.3" y1="439.5" x2="1098.3" y2="443.5" stroke="#555" stroke-width="1"/>
<text x="1098.3" y="455.8" font-size="11" fill="#555" text-anchor="middle">Jun</text>
<line x1="1228.3" y1="439.5" x2="1228.3" y2="443.5" stroke="#555" stroke-width="1"/>
<text x="1228.3" y="455.8" font-size="11" fill="#555" text-anchor="middle">2020</text>
<line x1="1316.1" y1="439.5" x2="1316.1" y2="443.5" stroke="#555" stroke-width="1"/>
<text x="1316.1" y="455.8" font-size="11" fill="#555" text-anchor="middle">Jun</text>
<line x1="1446.3" y1="439.5" x2="1446.3" y2="443.5" stroke="#555" stroke-width="1"/>
<text x="1446.3" y="455.8" font-size="11" fill="#555" text-anchor="middle">2021</text>
<line x1="1538.1" y1="439.5" x2="1538.1" y2="443.5" stroke="#555" stroke-width="1"/>
<text x="1538.1" y="455.8" font-size="11" fill="#555" text-anchor="middle">Jun</text>
<line x1="1664.1" y1="439.5" x2="1664.1" y2="443.5" stroke="#555" stroke-width="1"/>
<text x="1664.1" y="455.8" font-size="11" fill="#555" text-anchor="middle">2022</text>
<line x1="1756.4" y1="439.5" x2="1756.4" y2="443.5" stroke="#555" stroke-width="1"/>
<text x="1756.4" y="455.8" font-size="11" fill="#555" text-anchor="middle">Jun</text>
<clipPath id="cd"><rect x="920" y="496" width="848" height="317"/></clipPath>
<g clip-path="url(#cd)">
<rect x="1268.3" y="678.2" width="500.0" height="6.3" fill="#ccccfa"/>
<line x1="1268.3" y1="678.3" x2="1768.0" y2="678.3" stroke="#3a8ae8" stroke-width="1" stroke-dasharray="2.2 1.6"/>
<line x1="1268.3" y1="684.4" x2="1768.0" y2="684.4" stroke="#0a0aff" stroke-width="1.8"/>
<line x1="920.0" y1="538.5" x2="1768.0" y2="538.5" stroke="#f44336" stroke-width="1.1"/>
<line x1="1008.0" y1="537.0" x2="1768.0" y2="537.0" stroke="#1a73e0" stroke-width="2" stroke-dasharray="2 4"/>
<line x1="1566.5" y1="627.5" x2="1768.0" y2="627.5" stroke="#f44336" stroke-width="1" stroke-dasharray="1 2"/>
<path d="M919.8 800.6C922.4 800.0 928.8 799.0 935.7 797.0C942.7 795.0 952.9 791.8 961.5 788.5C970.1 785.2 978.6 780.7 987.2 777.4C995.8 774.1 1004.3 771.8 1012.9 768.7C1021.5 765.6 1030.0 762.0 1038.6 758.9C1047.2 755.8 1055.8 753.4 1064.4 750.4C1073.0 747.4 1081.5 744.0 1090.1 740.9C1098.7 737.8 1107.2 734.7 1115.8 731.9C1124.4 729.1 1132.9 726.9 1141.5 724.1C1150.1 721.3 1157.9 718.7 1167.3 715.1C1176.7 711.5 1186.1 706.7 1197.7 702.7C1209.3 698.7 1226.0 694.0 1236.9 691.0C1247.8 688.0 1254.0 686.1 1263.0 684.4C1272.0 682.6 1279.3 682.3 1291.0 680.5C1302.7 678.7 1320.2 675.5 1333.3 673.4C1346.3 671.3 1358.8 669.4 1369.3 667.7C1379.8 666.0 1387.5 664.6 1396.1 663.0C1404.7 661.4 1412.3 659.6 1421.0 657.9C1429.7 656.1 1440.8 653.8 1448.4 652.5C1456.0 651.2 1458.0 650.9 1466.7 649.9C1475.4 648.9 1489.7 647.5 1500.7 646.5C1511.8 645.5 1519.9 645.2 1533.0 644.0C1546.1 642.8 1565.0 640.5 1579.2 639.0C1593.4 637.5 1605.3 636.1 1618.4 635.0C1631.5 633.9 1646.4 632.8 1657.6 632.2C1668.8 631.6 1680.8 631.5 1685.4 631.4" fill="none" stroke="#e91e63" stroke-width="1.35"/>
<path d="M924.5 572.9V583.9M924.5 587.0V592.9M929.5 576.0V582.0M929.5 585.1V591.9M935.5 562.0V567.1M935.5 583.0V589.8M940.5 542.9V544.9M940.5 568.1V570.0M946.5 542.9V544.9M946.5 550.0V559.0M952.5 548.9V553.0M952.5 560.2V588.8M957.5 548.0V553.0M957.5 578.9V582.0M963.5 559.0V571.0M963.5 578.9V580.9M969.5 561.0V571.0M969.5 573.0V574.0M974.5 550.0V562.0M980.5 542.0V551.0M980.5 563.0V565.0M986.5 532.9V536.9M986.5 552.0V553.0M991.5 531.9V536.9M997.5 531.9V552.0M997.5 555.1V558.0M1003.5 534.9V536.9M1003.5 553.0V554.1M1008.5 519.0V529.0M1008.5 538.0V545.9M1014.5 519.9V527.0M1014.5 544.9V553.0M1019.5 539.0V543.9M1019.5 561.0V569.1M1025.5 558.0V559.9M1025.5 583.0V588.0M1031.5 563.0V564.0M1031.5 583.0V587.0M1036.5 559.0V564.0M1036.5 579.9V586.0M1042.5 572.0V578.9M1042.5 582.0V595.0M1048.5 578.0V581.0M1053.5 601.0V603.0M1053.5 606.0V613.0M1059.5 583.0V588.0M1059.5 606.0V607.1M1065.5 579.0V588.0M1065.5 597.1V606.0M1070.5 573.9V578.0M1070.5 597.1V598.1M1076.5 569.0V574.9M1076.5 579.0V582.0M1082.5 571.0V575.9M1082.5 587.1V593.0M1087.5 572.9V579.0M1087.5 587.1V596.1M1093.5 574.9V579.0M1093.5 596.1V610.9M1098.5 584.1V591.0M1098.5 596.1V604.0M1104.5 580.0V587.1M1104.5 592.0V600.0M1110.5 585.9V589.0M1110.5 610.9V612.0M1115.5 601.0V609.9M1115.5 616.0V625.9M1121.5 613.0V614.9M1121.5 618.8V629.0M1127.5 614.9V618.0M1127.5 641.8V642.8M1132.5 641.8V644.8M1138.5 608.1V614.9M1138.5 618.0V623.8M1144.5 589.9V592.0M1149.5 583.0V592.0M1149.5 593.0V596.1M1155.5 582.0V588.0M1155.5 593.0V594.0M1161.5 585.9V588.0M1161.5 592.0V604.0M1166.5 583.0V589.0M1166.5 591.0V593.0M1172.5 574.9V589.0M1172.5 597.1V600.0M1177.5 595.0V596.0M1177.5 619.0V622.8M1183.5 599.1V601.1M1189.5 583.0V592.9M1189.5 602.1V604.0M1194.5 575.9V580.0M1194.5 594.0V601.1M1200.5 572.0V580.0M1200.5 583.0V587.1M1206.5 574.0V577.9M1206.5 583.0V595.0M1211.5 552.0V575.9M1211.5 578.9V581.0M1217.5 571.0V575.9M1217.5 608.0V610.1M1223.5 597.0V607.0M1223.5 615.0V621.0M1228.5 599.1V600.1M1228.5 615.0V632.0M1234.5 592.9V600.1M1234.5 610.1V616.0M1240.5 608.0V609.0M1240.5 640.9V641.9M1245.5 635.9V639.7M1245.5 658.8V662.7M1251.5 649.9V654.8M1251.5 677.9V678.8M1256.5 654.8V659.8M1256.5 677.9V678.8M1262.5 660.9V670.8M1268.5 632.0V633.8M1268.5 651.7V656.0M1273.5 632.0V633.8M1273.5 645.8V657.8M1279.5 638.8V645.8M1279.5 653.9V657.8M1285.5 644.0V652.9M1285.5 660.9V666.8M1290.5 633.0V635.9M1290.5 660.9V665.9M1296.5 632.0V636.0M1296.5 657.0V659.0M1302.5 649.0V656.0M1302.5 661.0V669.9M1307.5 646.0V650.0M1307.5 669.9V671.0M1313.5 647.0V650.0M1313.5 677.3V679.0M1319.5 675.8V676.9M1319.5 688.9V689.9M1324.5 684.7V685.8M1324.5 703.7V704.9M1330.5 689.9V693.9M1330.5 703.7V704.9M1335.5 693.9V694.8M1335.5 703.7V704.9M1341.5 698.8V702.8M1341.5 719.7V720.7M1347.5 703.7V713.8M1347.5 719.7V722.8M1352.5 697.8V698.8M1352.5 714.7V719.7M1358.5 696.0V698.8M1358.5 704.9V708.7M1364.5 685.8V688.9M1364.5 706.8V712.9M1369.5 667.0V668.9M1369.5 689.9V693.9M1375.5 656.0V668.9M1375.5 673.0V673.8M1381.5 652.1V656.0M1381.5 673.0V673.8M1386.5 654.1V656.0M1386.5 662.1V672.0M1392.5 654.1V657.0M1392.5 664.9V669.9M1398.5 643.0V644.9M1398.5 658.0V668.9M1403.5 633.0V636.0M1403.5 646.0V648.0M1409.5 630.9V636.0M1409.5 640.9V644.0M1414.5 629.9V635.0M1414.5 640.9V644.9M1420.5 614.0V616.9M1420.5 639.1V648.0M1426.5 604.0V617.1M1426.5 618.9V623.0M1431.5 615.0V618.1M1431.5 619.1V629.8M1437.5 607.1V618.1M1437.5 624.9V631.9M1443.5 597.1V598.0M1443.5 624.9V626.0M1448.5 592.0V600.2M1448.5 603.0V611.0M1454.5 599.9V601.0M1454.5 603.0V612.0M1460.5 585.9V590.0M1460.5 602.0V612.0M1465.5 582.0V590.0M1465.5 593.0V598.0M1471.5 589.0V592.0M1477.5 605.0V609.1M1482.5 629.5V631.2M1488.5 619.9V625.6M1488.5 628.4V633.8M1493.5 606.1V608.1M1493.5 629.1V631.9M1499.5 574.9V578.0M1499.5 609.1V613.0M1505.5 572.9V578.0M1505.5 589.0V590.0M1510.5 571.9V582.9M1510.5 589.0V591.0M1516.5 581.0V582.9M1516.5 608.1V609.1M1522.5 595.1V604.0M1522.5 608.1V614.0M1527.5 582.0V582.9M1527.5 605.0V608.1M1533.5 575.9V582.0M1533.5 584.9V590.0M1539.5 554.9V559.0M1544.5 551.9V559.0M1544.5 575.9V579.9M1550.5 575.9V577.1M1556.5 552.9V556.9M1556.5 573.0V579.0M1561.5 555.9V562.0M1561.5 575.1V575.9M1567.5 545.0V550.9M1572.5 546.0V550.9M1572.5 569.0V573.0M1578.5 561.0V568.0M1578.5 569.0V575.1M1584.5 563.9V568.0M1584.5 570.0V588.1M1589.5 555.9V558.0M1589.5 567.0V572.0M1595.5 549.0V558.0M1601.5 558.0V562.0M1601.5 563.9V578.0M1606.5 561.0V562.9M1606.5 590.0V593.0M1612.5 570.0V575.9M1612.5 590.0V597.1M1618.5 564.9V569.0M1618.5 579.0V584.0M1623.5 568.0V569.0M1623.5 575.1V578.0M1629.5 560.0V573.0M1629.5 575.1V575.9M1635.5 568.0V573.0M1635.5 577.1V585.0M1640.5 568.0V575.9M1640.5 596.0V600.9M1646.5 588.1V591.0M1646.5 596.0V599.9M1651.5 582.0V589.1M1651.5 592.0V598.1M1657.5 586.1V589.1M1663.5 627.0V630.9M1663.5 659.9V663.8M1668.5 652.1V658.9M1668.5 672.9V678.2M1674.5 653.9V654.9M1674.5 675.0V678.2M1680.5 644.1V649.0M1680.5 655.9V666.9M1685.5 647.0V649.3M1685.5 650.3V652.1" stroke="#58585a" stroke-width="1" fill="none"/>
<path d="M945 544.9h3v5.1h-3zM956 553.0h3v26.0h-3zM968 571.0h3v2.0h-3zM990 536.9h3v25.1h-3zM1013 527.0h3v17.9h-3zM1018 543.9h3v17.1h-3zM1024 559.9h3v23.1h-3zM1035 564.0h3v15.9h-3zM1041 578.9h3v3.1h-3zM1047 581.0h3v25.0h-3zM1052 603.0h3v3.0h-3zM1064 588.0h3v9.0h-3zM1081 575.9h3v11.2h-3zM1092 579.0h3v17.1h-3zM1109 589.0h3v21.9h-3zM1114 609.9h3v6.1h-3zM1120 614.9h3v4.0h-3zM1126 618.0h3v23.9h-3zM1160 588.0h3v4.0h-3zM1171 589.0h3v8.0h-3zM1176 596.0h3v23.0h-3zM1199 580.0h3v3.0h-3zM1216 575.9h3v32.0h-3zM1222 607.0h3v8.0h-3zM1233 600.1h3v10.0h-3zM1239 609.0h3v31.9h-3zM1244 639.7h3v19.1h-3zM1250 654.8h3v23.0h-3zM1272 633.8h3v12.0h-3zM1278 645.8h3v8.0h-3zM1284 652.9h3v8.0h-3zM1295 636.0h3v21.0h-3zM1301 656.0h3v4.9h-3zM1312 650.0h3v27.4h-3zM1318 676.9h3v12.0h-3zM1323 685.8h3v17.9h-3zM1334 694.8h3v8.9h-3zM1340 702.8h3v16.9h-3zM1357 698.8h3v6.1h-3zM1374 668.9h3v4.1h-3zM1385 656.0h3v6.1h-3zM1408 636.0h3v4.9h-3zM1425 617.1h3v1.8h-3zM1436 618.1h3v6.8h-3zM1447 600.2h3v2.8h-3zM1464 590.0h3v3.0h-3zM1470 592.0h3v32.9h-3zM1481 609.1h3v20.5h-3zM1504 578.0h3v11.0h-3zM1515 582.9h3v25.1h-3zM1543 559.0h3v16.9h-3zM1555 556.9h3v16.1h-3zM1571 550.9h3v18.1h-3zM1583 568.0h3v2.0h-3zM1594 558.0h3v4.9h-3zM1600 562.0h3v2.0h-3zM1605 562.9h3v27.1h-3zM1622 569.0h3v6.1h-3zM1634 573.0h3v4.1h-3zM1639 575.9h3v20.0h-3zM1656 589.1h3v43.3h-3zM1662 630.9h3v28.9h-3zM1667 658.9h3v14.0h-3zM1684 649.3h3v1.0h-3z" fill="#ff3b3b" fill-opacity="0.72"/>
<path d="M923 583.9h3v3.1h-3zM928 582.0h3v3.1h-3zM934 567.1h3v15.9h-3zM939 544.9h3v23.1h-3zM951 553.0h3v7.2h-3zM962 571.0h3v7.9h-3zM973 562.0h3v11.0h-3zM979 551.0h3v12.0h-3zM985 536.9h3v15.1h-3zM996 552.0h3v3.1h-3zM1002 536.9h3v16.1h-3zM1007 529.0h3v9.0h-3zM1030 564.0h3v19.1h-3zM1058 588.0h3v17.9h-3zM1069 578.0h3v19.1h-3zM1075 574.9h3v4.1h-3zM1086 579.0h3v8.0h-3zM1097 591.0h3v5.1h-3zM1103 587.1h3v4.9h-3zM1131 613.0h3v28.8h-3zM1137 614.9h3v3.1h-3zM1143 592.0h3v24.0h-3zM1148 592.0h3v1.0h-3zM1154 588.0h3v4.9h-3zM1165 589.0h3v2.0h-3zM1182 601.1h3v17.9h-3zM1188 592.9h3v9.2h-3zM1193 580.0h3v14.0h-3zM1205 577.9h3v5.1h-3zM1210 575.9h3v3.0h-3zM1227 600.1h3v15.0h-3zM1255 659.8h3v18.1h-3zM1261 650.8h3v10.2h-3zM1267 633.8h3v17.9h-3zM1289 635.9h3v25.0h-3zM1306 650.0h3v19.9h-3zM1329 693.9h3v9.9h-3zM1346 713.8h3v5.9h-3zM1351 698.8h3v15.9h-3zM1363 688.9h3v17.9h-3zM1368 668.9h3v21.0h-3zM1380 656.0h3v16.9h-3zM1391 657.0h3v7.9h-3zM1397 644.9h3v13.1h-3zM1402 636.0h3v10.0h-3zM1413 635.0h3v5.9h-3zM1419 616.9h3v22.2h-3zM1430 618.1h3v1.0h-3zM1442 598.0h3v26.8h-3zM1453 601.0h3v2.0h-3zM1459 590.0h3v12.0h-3zM1476 609.1h3v10.9h-3zM1487 625.6h3v2.8h-3zM1492 608.1h3v21.0h-3zM1498 578.0h3v31.1h-3zM1509 582.9h3v6.1h-3zM1521 604.0h3v4.1h-3zM1526 582.9h3v22.0h-3zM1532 582.0h3v3.0h-3zM1538 559.0h3v24.0h-3zM1549 556.9h3v19.1h-3zM1560 562.0h3v13.1h-3zM1566 550.9h3v12.0h-3zM1577 568.0h3v1.0h-3zM1588 558.0h3v9.0h-3zM1611 575.9h3v14.1h-3zM1617 569.0h3v10.0h-3zM1628 573.0h3v2.1h-3zM1645 591.0h3v4.9h-3zM1650 589.1h3v3.0h-3zM1673 654.9h3v20.0h-3zM1679 649.0h3v6.9h-3z" fill="#4444f9" fill-opacity="0.72"/>
</g>
<clipPath id="cd2"><rect x="916" y="496" width="852" height="317"/></clipPath>
<text x="917.8" y="541.4" font-size="11" fill="#2a86e0" textLength="85.8" lengthAdjust="spacingAndGlyphs" clip-path="url(#cd2)">78.60%(1.22912)</text>
<text x="1475.4" y="630.8" font-size="11" fill="#f04a3e" textLength="87.3" lengthAdjust="spacingAndGlyphs">38.20%(1.20073)</text>
<text x="1306.2" y="681.6" font-size="11" fill="#3a8ae8" textLength="36.6" lengthAdjust="spacingAndGlyphs">78.60%</text>
<text x="1256.5" y="688.3" font-size="11" fill="#2060e0" textLength="86.3" lengthAdjust="spacingAndGlyphs">78.60%(1.18244)</text>
<path d="M1305.3 555.5H1356.0L1369.5 545.0L1372.5 555.5H1423.1Q1430.1 555.5 1430.1 562.5V581.2Q1430.1 588.2 1423.1 588.2H1305.3Q1298.3 588.2 1298.3 581.2V562.5Q1298.3 555.5 1305.3 555.5z" fill="#ea9999" fill-opacity="0.5" stroke="#e26a6a" stroke-opacity="0.75" stroke-width="1"/>
<text x="1308.8" y="574.6" font-size="12.5" fill="#222" textLength="110.4" lengthAdjust="spacingAndGlyphs">Weekly Resistance</text>
<text x="928.3" y="517.1" font-size="12" fill="#555" font-weight="bold" textLength="128.1" lengthAdjust="spacingAndGlyphs" opacity="0.92">Euro / U.S. Dollar, 1D,</text>
<text x="928.3" y="534.1" font-size="12" fill="#555" textLength="100.7" lengthAdjust="spacingAndGlyphs">MA (200, close, 0)</text>
<rect x="920.0" y="829.6" width="848.5" height="51.2" fill="#f5e8fd"/>
<line x1="920.0" y1="829.6" x2="1768.0" y2="829.6" stroke="#a9a9a9" stroke-width="1" stroke-dasharray="6 5"/>
<line x1="920.0" y1="880.8" x2="1768.0" y2="880.8" stroke="#a9a9a9" stroke-width="1" stroke-dasharray="6 5"/>
<line x1="920.0" y1="855.4" x2="1768.0" y2="855.4" stroke="#c8c4cc" stroke-width="1" stroke-dasharray="6 5"/>
<clipPath id="cr"><rect x="920" y="814" width="848" height="77"/></clipPath>
<polyline points="920.3,834.0 926.7,831.4 934.4,830.4 940.4,822.2 951.2,827.1 957.6,842.0 964.0,839.9 969.7,840.4 977.4,835.3 987.2,830.4 991.3,842.5 997.5,839.9 1008.5,833.0 1018.1,846.4 1025.3,857.2 1031.4,851.5 1037.3,856.6 1042.5,857.4 1048.9,865.1 1053.6,865.1 1059.7,858.4 1065.6,860.8 1070.8,853.6 1076.7,852.8 1082.4,857.2 1087.5,854.6 1093.4,860.5 1104.2,857.2 1110.7,865.6 1115.8,867.4 1121.5,868.5 1127.4,875.2 1132.5,862.8 1138.5,863.1 1144.1,854.1 1149.3,853.6 1155.7,852.3 1161.6,853.6 1166.5,852.5 1172.4,856.1 1177.6,865.1 1183.5,857.4 1189.1,854.1 1194.8,848.9 1200.7,849.4 1211.0,847.1 1217.4,861.8 1223.4,864.4 1228.5,858.2 1234.2,861.8 1240.6,872.1 1245.7,876.7 1251.7,881.1 1257.3,873.4 1262.5,869.5 1268.9,862.3 1274.0,865.1 1280.5,867.7 1285.6,869.5 1290.8,859.7 1296.7,865.6 1302.3,866.9 1308.0,863.3 1313.9,870.8 1319.1,873.4 1324.7,877.2 1330.6,872.9 1336.3,875.9 1341.7,879.0 1347.4,876.7 1352.5,870.0 1358.4,871.3 1364.1,864.4 1370.0,855.9 1375.1,857.2 1381.6,851.5 1386.7,853.1 1392.6,851.8 1402.9,844.1 1409.1,845.9 1414.3,844.1 1420.7,837.9 1431.8,838.2 1437.4,842.0 1443.3,833.5 1448.5,835.6 1454.1,835.1 1460.1,831.5 1465.7,832.7 1471.1,851.3 1477.3,845.9 1483.2,853.1 1488.4,854.4 1499.4,837.1 1505.6,842.0 1510.5,840.7 1516.7,851.0 1522.3,850.2 1527.7,843.3 1533.4,842.8 1539.3,836.6 1544.5,843.3 1550.1,838.7 1556.6,844.6 1567.6,838.9 1573.3,846.4 1584.1,846.6 1589.5,843.0 1595.7,844.6 1601.6,845.6 1606.7,857.2 1612.7,852.3 1618.3,849.7 1624.0,851.8 1629.9,851.3 1635.6,853.1 1640.2,861.6 1651.3,858.5 1657.4,873.9 1663.4,880.6 1668.5,884.2 1674.9,876.0 1680.6,872.6 1685.7,872.6" fill="none" stroke="#9c27b0" stroke-width="1.2" stroke-linejoin="round" clip-path="url(#cr)"/>
<text x="928.5" y="835.0" font-size="12" fill="#555" textLength="77.0" lengthAdjust="spacingAndGlyphs">RSI (14, close)</text>
<path d="M919.5 495.5H1826.5V919.5H919.5z M1768.5 495.5V919.5 M919.5 813.5H1826.5 M919.5 891.5H1826.5" fill="none" stroke="#555" stroke-width="1"/>
<clipPath id="ca"><rect x="1769" y="496" width="57" height="317"/></clipPath>
<g clip-path="url(#ca)">
<line x1="1768.5" y1="503.5" x2="1772.8" y2="503.5" stroke="#555" stroke-width="1"/>
<text x="1777.9" y="507.0" font-size="11" fill="#555" textLength="37.8" lengthAdjust="spacingAndGlyphs">1.24000</text>
<line x1="1768.5" y1="566.5" x2="1772.8" y2="566.5" stroke="#555" stroke-width="1"/>
<text x="1777.9" y="569.9" font-size="11" fill="#555" textLength="37.8" lengthAdjust="spacingAndGlyphs">1.22000</text>
<line x1="1768.5" y1="597.5" x2="1772.8" y2="597.5" stroke="#555" stroke-width="1"/>
<text x="1777.9" y="601.4" font-size="11" fill="#555" textLength="37.8" lengthAdjust="spacingAndGlyphs">1.21000</text>
<line x1="1768.5" y1="628.5" x2="1772.8" y2="628.5" stroke="#555" stroke-width="1"/>
<text x="1777.9" y="632.8" font-size="11" fill="#555" textLength="37.8" lengthAdjust="spacingAndGlyphs">1.20000</text>
<line x1="1768.5" y1="660.5" x2="1772.8" y2="660.5" stroke="#555" stroke-width="1"/>
<text x="1777.9" y="664.3" font-size="11" fill="#555" textLength="37.8" lengthAdjust="spacingAndGlyphs">1.19000</text>
<line x1="1768.5" y1="691.5" x2="1772.8" y2="691.5" stroke="#555" stroke-width="1"/>
<text x="1777.9" y="695.7" font-size="11" fill="#555" textLength="37.8" lengthAdjust="spacingAndGlyphs">1.18000</text>
<line x1="1768.5" y1="723.5" x2="1772.8" y2="723.5" stroke="#555" stroke-width="1"/>
<text x="1777.9" y="727.2" font-size="11" fill="#555" textLength="37.8" lengthAdjust="spacingAndGlyphs">1.17000</text>
<line x1="1768.5" y1="754.5" x2="1772.8" y2="754.5" stroke="#555" stroke-width="1"/>
<text x="1777.9" y="758.7" font-size="11" fill="#555" textLength="37.8" lengthAdjust="spacingAndGlyphs">1.16000</text>
<line x1="1768.5" y1="786.5" x2="1772.8" y2="786.5" stroke="#555" stroke-width="1"/>
<text x="1777.9" y="790.1" font-size="11" fill="#555" textLength="37.8" lengthAdjust="spacingAndGlyphs">1.15000</text>
</g>
<clipPath id="cb"><rect x="1769" y="814" width="57" height="77"/></clipPath>
<g clip-path="url(#cb)">
<line x1="1768.5" y1="823.5" x2="1772.8" y2="823.5" stroke="#555" stroke-width="1"/>
<text x="1777.9" y="827.1" font-size="11" fill="#555" textLength="26.8" lengthAdjust="spacingAndGlyphs">75.00</text>
<line x1="1768.5" y1="855.5" x2="1772.8" y2="855.5" stroke="#555" stroke-width="1"/>
<text x="1777.9" y="859.3" font-size="11" fill="#555" textLength="26.8" lengthAdjust="spacingAndGlyphs">50.00</text>
<line x1="1768.5" y1="887.5" x2="1772.8" y2="887.5" stroke="#555" stroke-width="1"/>
<text x="1777.9" y="891.1" font-size="11" fill="#555" textLength="26.8" lengthAdjust="spacingAndGlyphs">25.00</text>
</g>
<rect x="1769.0" y="496.0" width="53.0" height="1.3" fill="#f44336"/>
<rect x="1783.3" y="502.5" width="27.7" height="16.6" rx="3.5" fill="#fff" stroke="#d0d4de"/>
<text x="1787.8" y="514.3" font-size="11" fill="#555" textLength="18.8" lengthAdjust="spacingAndGlyphs">USD</text>
<path d="M1768.0 530.1H1819.6Q1821.8 530.1 1821.8 532.3V544.4Q1821.8 546.6 1819.6 546.6H1768.0z" fill="#f44336"/>
<line x1="1768.0" y1="538.4" x2="1773.0" y2="538.4" stroke="#fff" stroke-width="1" opacity="0.9"/>
<text x="1778.2" y="542.8" font-size="11" fill="#fff" font-weight="bold" textLength="38.5" lengthAdjust="spacingAndGlyphs">1.22900</text>
<path d="M1768.0 641.2H1819.6Q1821.8 641.2 1821.8 643.4V655.5Q1821.8 657.7 1819.6 657.7H1768.0z" fill="#ff0000"/>
<line x1="1768.0" y1="649.5" x2="1773.0" y2="649.5" stroke="#fff" stroke-width="1" opacity="0.9"/>
<text x="1778.2" y="653.9" font-size="11" fill="#fff" font-weight="bold" textLength="38.5" lengthAdjust="spacingAndGlyphs">1.19344</text>
<path d="M1768.0 676.0H1819.6Q1821.8 676.0 1821.8 678.2V690.5Q1821.8 692.7 1819.6 692.7H1768.0z" fill="#0a0aff"/>
<line x1="1768.0" y1="684.4" x2="1773.0" y2="684.4" stroke="#fff" stroke-width="1" opacity="0.9"/>
<text x="1778.2" y="688.8" font-size="11" fill="#fff" font-weight="bold" textLength="38.5" lengthAdjust="spacingAndGlyphs">1.18244</text>
<line x1="997.5" y1="891.5" x2="997.5" y2="895.5" stroke="#555" stroke-width="1"/>
<text x="997.5" y="907.8" font-size="11" fill="#555" font-weight="bold" text-anchor="middle">2021</text>
<line x1="1110.7" y1="891.5" x2="1110.7" y2="895.5" stroke="#555" stroke-width="1"/>
<text x="1110.7" y="907.8" font-size="11" fill="#555" text-anchor="middle">Feb</text>
<line x1="1223.3" y1="891.5" x2="1223.3" y2="895.5" stroke="#555" stroke-width="1"/>
<text x="1223.3" y="907.8" font-size="11" fill="#555" text-anchor="middle">Mar</text>
<line x1="1352.5" y1="891.5" x2="1352.5" y2="895.5" stroke="#555" stroke-width="1"/>
<text x="1352.5" y="907.8" font-size="11" fill="#555" text-anchor="middle">Apr</text>
<line x1="1477.3" y1="891.5" x2="1477.3" y2="895.5" stroke="#555" stroke-width="1"/>
<text x="1477.3" y="907.8" font-size="11" fill="#555" text-anchor="middle">May</text>
<line x1="1595.7" y1="891.5" x2="1595.7" y2="895.5" stroke="#555" stroke-width="1"/>
<text x="1595.7" y="907.8" font-size="11" fill="#555" text-anchor="middle">Jun</text>
<line x1="1719.2" y1="891.5" x2="1719.2" y2="895.5" stroke="#555" stroke-width="1"/>
<text x="1719.2" y="907.8" font-size="11" fill="#555" text-anchor="middle">Jul</text>
<g fill="#2962ff"><circle cx="10.6" cy="940.2" r="4.7"/><circle cx="16.6" cy="934.7" r="4.9"/><circle cx="26.8" cy="939.6" r="5.3"/><rect x="10.6" y="936" width="16.2" height="8.9"/></g>
<path d="M6.3 943.4L15.700 935.700 21.900 941.300 28.700 934.300" fill="none" stroke="#fff" stroke-width="1.3" stroke-linejoin="round"/>
<circle cx="15.7" cy="935.7" r="1.6" fill="#fff"/><circle cx="21.9" cy="941.3" r="1.9" fill="#fff"/>
<text x="34.0" y="941.6" font-size="12.6" fill="#131722" textLength="70.7" lengthAdjust="spacingAndGlyphs">TradingView</text>
</svg>
</body></html>
